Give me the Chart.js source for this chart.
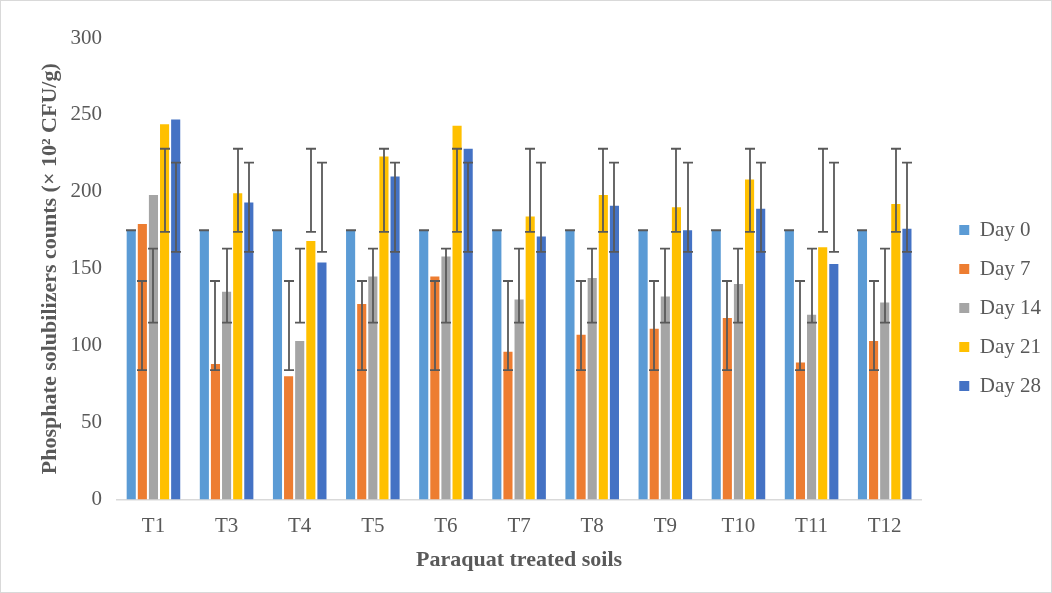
<!DOCTYPE html>
<html>
<head>
<meta charset="utf-8">
<script src="https://cdn.jsdelivr.net/npm/chart.js@4.4.0/dist/chart.umd.min.js"></script>
<style>
  html, body { margin: 0; padding: 0; background: #fff; }
  #wrap { position: relative; width: 1052px; height: 593px; box-sizing: border-box; border: 1px solid #d9d9d9; }
</style>
</head>
<body>
<div id="wrap"><canvas id="chart" width="1050" height="591"></canvas></div>
<script>
// data
const soils = ['T1', 'T3', 'T4', 'T5', 'T6', 'T7', 'T8', 'T9', 'T10', 'T11', 'T12'];
const day0  = [175, 175, 175, 175, 175, 175, 175, 175, 175, 175, 175];
const day7  = [179, 88, 80, 127, 145, 96, 107, 111, 118, 89, 103];
const day14 = [198, 135, 103, 145, 158, 130, 144, 132, 140, 120, 128];
const day21 = [244, 199, 168, 223, 243, 184, 198, 190, 208, 164, 192];
const day28 = [247, 193, 154, 210, 228, 171, 191, 175, 189, 153, 176];

// error bars (same range for every bar of a series)
const errLow  = [175, 84, 115, 174, 161];
const errHigh = [175, 142, 163, 228, 219];

const seriesNames = ['Day 0', 'Day 7', 'Day 14', 'Day 21', 'Day 28'];
const seriesData = [day0, day7, day14, day21, day28];
const colors = ['#5B9BD5', '#ED7D31', '#A5A5A5', '#FFC000', '#4472C4'];

const textColor = '#595959';
const serif = "'Liberation Serif', 'Times New Roman', serif";

const errorBars = {
    id: 'errorBars',
    afterDatasetsDraw(chart) {
        const ctx = chart.ctx;
        const y = chart.scales.y;
        ctx.save();
        ctx.strokeStyle = '#595959';
        ctx.lineWidth = 1.8;
        chart.data.datasets.forEach((ds, i) => {
            const meta = chart.getDatasetMeta(i);
            const lo = y.getPixelForValue(errLow[i]);
            const hi = y.getPixelForValue(errHigh[i]);
            meta.data.forEach(bar => {
                const x = Math.round(bar.x);
                ctx.beginPath();
                ctx.moveTo(x, lo); ctx.lineTo(x, hi);
                ctx.moveTo(x - 5, lo); ctx.lineTo(x + 5, lo);
                ctx.moveTo(x - 5, hi); ctx.lineTo(x + 5, hi);
                ctx.stroke();
            });
        });
        ctx.restore();
    }
};

new Chart(document.getElementById('chart'), {
    type: 'bar',
    data: {
        labels: soils,
        datasets: seriesNames.map((name, i) => ({
            label: name,
            data: seriesData[i],
            backgroundColor: colors[i],
            borderWidth: 0,
            categoryPercentage: 0.76,
            barPercentage: 0.82
        }))
    },
    plugins: [errorBars],
    options: {
        responsive: false,
        animation: false,
        layout: { padding: { top: 37, right: 0, left: 32, bottom: 14 } },
        plugins: {
            tooltip: { enabled: false },
            legend: {
                position: 'right',
                labels: {
                    color: textColor,
                    font: { family: serif, size: 21 },
                    boxWidth: 10,
                    boxHeight: 10,
                    padding: 18
                }
            }
        },
        scales: {
            x: {
                grid: { display: false, drawTicks: false },
                border: { color: '#d9d9d9', width: 1.5 },
                ticks: { color: textColor, font: { family: serif, size: 21 }, padding: 14 },
                title: {
                    display: true,
                    text: 'Paraquat treated soils',
                    color: textColor,
                    font: { family: serif, size: 22, weight: 'bold' },
                    padding: { top: -5 }
                }
            },
            y: {
                min: 0,
                max: 300,
                grid: { display: false, drawTicks: false },
                border: { display: false },
                ticks: { stepSize: 50, color: textColor, font: { family: serif, size: 21 }, padding: 15 },
                title: {
                    display: true,
                    text: 'Phosphate solubilizers counts (× 10² CFU/g)',
                    color: textColor,
                    font: { family: serif, size: 22, weight: 'bold' },
                    padding: { bottom: -8 }
                }
            },
            gap: {
                position: 'right',
                display: true,
                grid: { display: false, drawTicks: false },
                border: { display: false },
                ticks: { display: false },
                afterFit(scale) { scale.width = 20; }
            }
        }
    }
});
</script>
</body>
</html>
